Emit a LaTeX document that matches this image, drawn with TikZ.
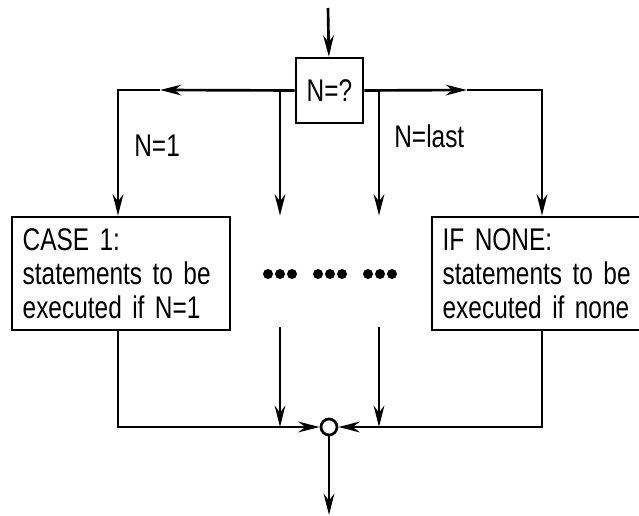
\documentclass[tikz,border=0pt]{standalone}
\usepackage{fontspec}
\setmainfont{Liberation Sans}[FakeStretch=0.78]
\usetikzlibrary{arrows.meta}

\begin{document}
\begin{tikzpicture}[x=0.75pt,y=-0.75pt,>={Stealth[length=16pt,width=8pt]},line width=2pt,
 every node/.style={font=\fontsize{23.5}{25.5}\selectfont},
 box/.style={draw,inner xsep=8pt,inner ysep=0pt,align=left},
 lbl/.style={inner sep=0pt,anchor=base west},
 dot/.style={circle,fill,inner sep=0pt,minimum size=7.5pt}]
\useasboundingbox (0,0) rectangle (639,516);
\node[box,inner xsep=0pt,minimum width=50.25pt,minimum height=48.75pt](q) at (329.5,90.5){N=?};
\node[box,minimum width=163.5pt,minimum height=84.75pt,text width=147.5pt](c1) at (121,273.5){CASE 1:\\statements to be\\executed if N=1};
\node[box,minimum width=170pt,minimum height=84.75pt,text width=154pt](cn) at (545.3,273.5){IF NONE:\\statements to be\\executed if none};
\node[draw,circle,inner sep=0pt,minimum size=12pt](j) at (329,427){};
\node[lbl](l1) at (133,157){N=1};
\node[lbl](ll) at (393,148){N=last};
% dots between the cases
\foreach \x in {280,330,380}
  \foreach \d in {-12,0,12}
    \node[dot](d\x\d) at (\x+\d,274){};
\coordinate (in) at (328,8);
\coordinate (out) at (329,515);
\coordinate (tl) at (118,90);
\coordinate (tr) at (542,90);
\coordinate (ml) at (160,90);
\coordinate (mr) at (467,90);
\coordinate (b2) at (280,90);
\coordinate (b3) at (379,90);
\coordinate (e2) at (280,327);
\coordinate (e3) at (379,327);
\coordinate (bl) at (118,427);
\coordinate (br) at (542,427);
\draw[->](in)--(q);
\draw[->](q.west)--(ml);\draw[->](ml)--(tl)--(tl|-c1.north);
\draw[->](q.east)--(mr);\draw[->](mr)--(tr)--(tr|-cn.north);
\draw[->](b2)--(b2|-c1.north);\draw[->](b3)--(b3|-c1.north);
\draw[->](e2)--(e2|-j);\draw[->](e3)--(e3|-j);
\draw[->](tl|-c1.south)--(bl)--(j.west);
\draw[->](tr|-cn.south)--(br)--(j.east);
\draw[->](j)--(out);
\end{tikzpicture}
\end{document}
